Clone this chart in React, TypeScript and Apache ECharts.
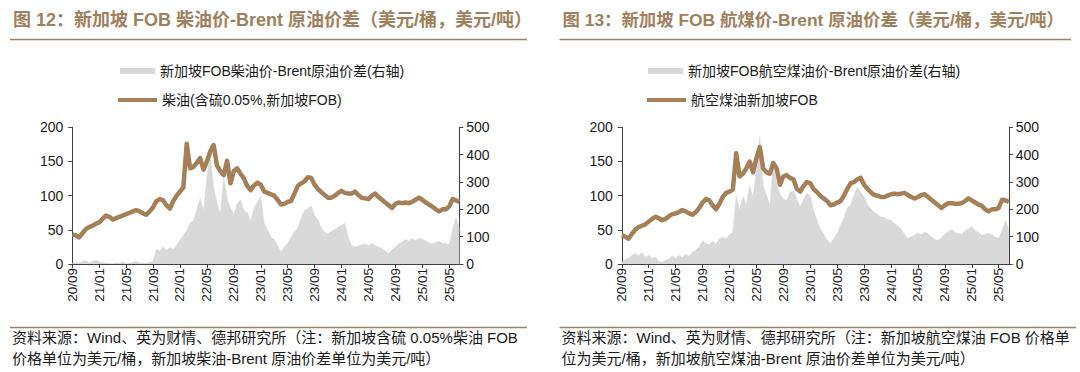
import React, { useEffect, useRef } from "react";
import * as echarts from "echarts";

// semi-monthly categories from 2020/09 to mid 2025/06
const dates: string[] = [];
for (let i = 0; i < 116; i++) {
  const m = 8 + Math.floor(i / 2);
  const y = 20 + Math.floor(m / 12);
  const mm = (m % 12) + 1;
  dates.push(`${y}/${String(mm).padStart(2, "0")}/${i % 2 ? "16" : "01"}`);
}

// Figure 12: Singapore FOB diesel (USD/bbl) and diesel-Brent spread (USD/t)
const diesel = [
  43, 42, 39, 45, 51, 54, 56, 59, 61, 66, 71, 69, 65, 67, 69, 71, 73, 75, 77, 79,
  77, 74, 72, 77, 83, 92, 95, 93, 86, 81, 92, 100, 106, 112, 176, 140, 142, 148, 155, 138,
  150, 165, 174, 144, 136, 130, 151, 118, 136, 140, 132, 125, 114, 108, 115, 119, 116, 106, 104, 102,
  100, 94, 87, 88, 91, 92, 103, 114, 118, 121, 127, 126, 116, 110, 105, 101, 97, 97, 100, 104,
  107, 104, 103, 103, 106, 101, 97, 96, 95, 100, 103, 98, 94, 90, 86, 82, 88, 90, 89, 90,
  89, 91, 94, 97, 94, 90, 87, 84, 80, 77, 80, 80, 84, 95, 93, 91,
];
const dieselSpread = [
  2, 6, 3, 9, 12, 5, 10, 14, 8, 6, 4, 3, 2, 5, 3, 7, 2, 4, 6, 9, 4, 3, 2, 6, 9,
  55, 48, 62, 50, 60, 54, 68, 88, 104, 122, 150, 158, 200, 240, 195, 320, 398, 280, 222, 184,
  318, 240, 205, 182, 220, 235, 196, 188, 158, 205, 225, 248, 150, 126, 98, 90, 66, 45, 62, 76,
  98, 118, 132, 168, 196, 202, 212, 178, 162, 132, 116, 110, 120, 126, 134, 142, 150, 98, 68, 62,
  66, 70, 74, 68, 76, 68, 62, 56, 48, 38, 52, 62, 74, 80, 90, 84, 92, 86, 94, 92,
  84, 78, 74, 80, 82, 76, 75, 70, 126, 170, 130,
];

// Figure 13: Singapore FOB jet fuel (USD/bbl) and jet-Brent spread (USD/t)
const jet = [
  42, 40, 37, 44, 50, 54, 56, 58, 62, 66, 69, 67, 64, 66, 70, 73, 74, 76, 79, 77,
  74, 72, 76, 82, 90, 95, 93, 86, 80, 88, 98, 104, 106, 109, 162, 128, 132, 140, 150, 134,
  155, 171, 140, 134, 132, 148, 140, 116, 128, 130, 126, 124, 110, 106, 114, 120, 118, 110, 105, 100,
  96, 92, 86, 87, 90, 92, 100, 110, 118, 120, 124, 126, 116, 110, 105, 101, 100, 98, 98, 100,
  102, 103, 102, 103, 104, 101, 98, 96, 98, 101, 102, 98, 94, 90, 86, 82, 86, 89, 89, 88,
  88, 89, 92, 96, 93, 90, 87, 85, 80, 77, 80, 80, 82, 94, 93, 91,
];
const jetSpread = [
  5, 16, 22, 32, 38, 30, 42, 26, 32, 20, 26, 10, 6, 14, 18, 30, 20, 32, 24, 36,
  28, 44, 50, 62, 86, 74, 70, 84, 72, 92, 98, 92, 106, 116, 250, 196, 248, 216, 284, 246,
  342, 465, 286, 252, 216, 366, 296, 256, 238, 232, 262, 268, 238, 208, 236, 258, 250, 196, 160, 128,
  110, 88, 76, 92, 112, 142, 168, 204, 218, 252, 282, 262, 246, 218, 202, 188, 182, 172, 170, 162,
  160, 148, 140, 128, 108, 94, 100, 106, 114, 108, 116, 110, 100, 90, 86, 96, 110, 118, 126, 116,
  112, 108, 122, 128, 138, 122, 116, 104, 110, 112, 108, 98, 94, 122, 160, 124,
];

const titles = [
  "图 12：新加坡 FOB 柴油价-Brent 原油价差（美元/桶，美元/吨）",
  "图 13：新加坡 FOB 航煤价-Brent 原油价差（美元/桶，美元/吨）",
];
const spreadNames = ["新加坡FOB柴油价-Brent原油价差(右轴)", "新加坡FOB航空煤油价-Brent原油价差(右轴)"];
const priceNames = ["柴油(含硫0.05%,新加坡FOB)", "航空煤油新加坡FOB"];
const sources = [
  ["资料来源：Wind、英为财情、德邦研究所（注：新加坡含硫 0.05%柴油 FOB", "价格单位为美元/桶，新加坡柴油-Brent 原油价差单位为美元/吨）"],
  ["资料来源：Wind、英为财情、德邦研究所（注：新加坡航空煤油 FOB 价格单", "位为美元/桶，新加坡航空煤油-Brent 原油价差单位为美元/吨）"],
];

const FONT = "'Liberation Sans', Arial, 'Noto Sans CJK SC', sans-serif";
const BROWN = "#a57f57";
const TITLE_BROWN = "#a0805c";
const GRAY = "#d9d9d9";
const AXIS = "#404040";
const TXT = "#1a1a1a";

export default function App() {
  const ref = useRef<HTMLDivElement>(null);
  useEffect(() => {
    if (!ref.current) return;
    const chart = echarts.init(ref.current, undefined, { renderer: "svg" });
    const offsets = [0, 549.5];
    const titleSizes = [18, 17.4];
    const ruleEnds = [[527, 527], [1071, 1076]];
    const gridLefts = [72.3, 621.8];
    const grids = gridLefts.map((l) => ({ left: l, top: 127.3, width: 387, height: 136.7 }));
    const xAxes = [0, 1].map((g) => ({
      type: "category",
      gridIndex: g,
      data: dates,
      boundaryGap: false,
      axisLine: { lineStyle: { color: AXIS, width: 1 } },
      axisTick: { interval: 7, length: 4, lineStyle: { color: AXIS } },
      axisLabel: {
        interval: 7,
        rotate: 90,
        fontSize: 13.5,
        color: TXT,
        fontFamily: FONT,
        margin: 4,
        formatter: (v: string) => v.slice(0, 5),
      },
      splitLine: { show: false },
    }));
    const yAxes: any[] = [];
    [0, 1].forEach((g) => {
      yAxes.push({
        type: "value",
        gridIndex: g,
        position: "left",
        min: 0,
        max: 200,
        interval: 50,
        axisLine: { show: true, lineStyle: { color: AXIS } },
        axisTick: { show: true, length: 4, lineStyle: { color: AXIS } },
        axisLabel: { fontSize: 14, color: TXT, fontFamily: FONT, margin: 9 },
        splitLine: { show: false },
      });
      yAxes.push({
        type: "value",
        gridIndex: g,
        position: "right",
        min: 0,
        max: 500,
        interval: 100,
        axisLine: { show: true, lineStyle: { color: AXIS } },
        axisTick: { show: true, length: 4, lineStyle: { color: AXIS } },
        axisLabel: { fontSize: 14, color: TXT, fontFamily: FONT, margin: 7 },
        splitLine: { show: false },
      });
    });
    const spreadData = [dieselSpread, jetSpread];
    const priceData = [diesel, jet];
    const series: any[] = [];
    [0, 1].forEach((g) => {
      series.push({
        name: spreadNames[g],
        type: "line",
        xAxisIndex: g,
        yAxisIndex: g * 2 + 1,
        data: spreadData[g],
        symbol: "none",
        lineStyle: { width: 0.5, color: GRAY },
        itemStyle: { color: GRAY },
        areaStyle: { color: GRAY, opacity: 1 },
        z: 1,
      });
      series.push({
        name: priceNames[g],
        type: "line",
        xAxisIndex: g,
        yAxisIndex: g * 2,
        data: priceData[g],
        symbol: "none",
        lineStyle: { width: 4.5, color: BROWN, join: "round" },
        itemStyle: { color: BROWN },
        z: 3,
      });
    });
    const legendText = { fontSize: 14, color: TXT, fontFamily: FONT };
    const legendLefts = [[115, 113], [643, 642]];
    const legend: any[] = [];
    [0, 1].forEach((g) => {
      legend.push({
        data: [{ name: spreadNames[g], icon: "rect" }],
        left: legendLefts[g][0],
        top: 59,
        itemWidth: 35,
        itemHeight: 6,
        textStyle: legendText,
        selectedMode: false,
      });
      legend.push({
        data: [{ name: priceNames[g], icon: "rect" }],
        left: legendLefts[g][1],
        top: 88,
        itemWidth: 39,
        itemHeight: 4,
        textStyle: legendText,
        selectedMode: false,
      });
    });
    const graphic: any[] = [];
    [0, 1].forEach((g) => {
      const o = offsets[g];
      graphic.push({
        type: "text",
        left: 13 + o,
        top: 11,
        style: { text: titles[g], font: `bold ${titleSizes[g]}px ${FONT}`, fill: TITLE_BROWN },
      });
      graphic.push({
        type: "line",
        shape: { x1: 10 + o, y1: 39.5, x2: ruleEnds[g][0], y2: 39.5 },
        style: { stroke: TITLE_BROWN, lineWidth: 1.6 },
      });
      graphic.push({
        type: "line",
        shape: { x1: 10 + o, y1: 327.5, x2: ruleEnds[g][1], y2: 327.5 },
        style: { stroke: TITLE_BROWN, lineWidth: 1.6 },
      });
      sources[g].forEach((s, k) => {
        graphic.push({
          type: "text",
          left: 12 + o,
          top: 330 + k * 21,
          style: { text: s, font: `15px ${FONT}`, fill: TXT },
        });
      });
    });
    chart.setOption({
      animation: false,
      backgroundColor: "#ffffff",
      grid: grids,
      xAxis: xAxes,
      yAxis: yAxes,
      legend,
      series,
      graphic,
    });
    return () => chart.dispose();
  }, []);
  return (
    <div
      ref={ref}
      style={{ position: "absolute", left: 0, top: 0, width: 1080, height: 372 }}
    />
  );
}
